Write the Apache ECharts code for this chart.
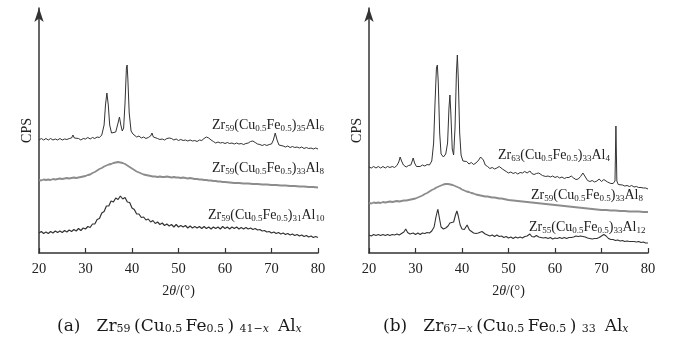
<!DOCTYPE html>
<html>
<head>
<meta charset="utf-8">
<script src="https://cdn.jsdelivr.net/npm/echarts@6/dist/echarts.min.js"></script>
<style>
  html, body { margin: 0; padding: 0; background: #fff; }
  #chart { width: 687px; height: 347px; }
</style>
</head>
<body>
<div id="chart"></div>
<script>
// XRD patterns, 2θ (deg) vs. offset intensity (CPS, arbitrary units)
const xTicks = [20, 30, 40, 50, 60, 70, 80];

// (a) Zr59(Cu0.5Fe0.5)41-x Alx
const a_Al6 = [
  [20,113],[20.5,114.5],[21,113],[21.5,114.5],[22,113],[22.5,114.5],[23,113],[23.5,114],[24,113],[24.5,114.5],
  [25,113],[25.5,114],[26,113.5],[26.5,114.5],[27,115],[27.3,118],[27.6,115],[28,113],[28.5,114.5],[29,113],
  [29.5,114.5],[30,114],[30.5,115.5],[31,114],[31.5,115.5],[32,114.5],[32.5,116],[33,115.5],[33.5,118],[34,128],
  [34.3,148],[34.6,160],[34.9,148],[35.2,128],[35.6,120],[36,119],[36.5,121],[37,130],[37.3,136],[37.6,128],
  [37.9,122],[38.2,125],[38.5,150],[38.8,185],[38.95,188],[39.1,175],[39.4,140],[39.8,122],[40.2,119],[40.6,117],
  [41,116],[41.5,117],[42,115],[42.5,116],[43,114.5],[43.5,115.5],[44,117],[44.3,120],[44.6,116],[45,114],
  [45.5,114.5],[46,113.5],[46.5,114],[47,113],[47.5,114.5],[48,115],[48.5,114.5],[49,113],[49.5,114],[50,112.5],
  [50.5,113.5],[51,112.5],[51.5,113],[52,112],[52.5,113],[53,112],[53.5,112.5],[54,111.5],[54.5,113],[55,112.5],
  [55.5,114.5],[56,116],[56.5,115],[57,113],[57.5,111.5],[58,110],[58.5,111],[59,110],[59.5,110.5],[60,109.5],
  [60.5,110.5],[61,109.5],[61.5,110],[62,109],[62.5,110],[63,109],[63.5,109.5],[64,108.5],[64.5,109.5],[65,110],
  [65.5,111.5],[66,112],[66.5,110.5],[67,109],[67.5,108.5],[68,107.5],[68.5,108.5],[69,107.5],[69.5,108.5],[70,109],
  [70.4,113],[70.8,120],[71.2,113],[71.6,108],[72,106.5],[72.5,107],[73,106],[73.5,107],[74,105.5],[74.5,106.5],
  [75,105.5],[75.5,106],[76,105],[76.5,106],[77,104.5],[77.5,105.5],[78,104.5],[78.5,105],[79,104],[79.5,105],[80,104]
];
const a_Al8 = [
  [20,73],[20.5,72.5],[21,73.5],[21.5,73],[22,73.5],[22.5,73],[23,74],[23.5,73.5],[24,74],[24.5,74.5],
  [25,74],[25.5,74.5],[26,75],[26.5,74.5],[27,75],[27.5,75.5],[28,75],[28.5,75.5],[29,76],[29.5,76.5],
  [30,77],[30.5,78],[31,78.5],[31.5,80],[32,81],[32.5,82.5],[33,84],[33.5,85],[34,86.5],[34.5,87.5],
  [35,88.5],[35.5,89],[36,90],[36.5,90.5],[37,91],[37.5,90.5],[38,90],[38.5,89],[39,87.5],[39.5,86],
  [40,84.5],[40.5,83],[41,81.5],[41.5,80.5],[42,79.5],[42.5,78.5],[43,78],[43.5,77.5],[44,77],[44.5,76.5],
  [45,76.5],[45.5,76],[46,76.5],[46.5,76],[47,76],[47.5,76.5],[48,76],[48.5,75.5],[49,76],[49.5,75.5],
  [50,75.5],[50.5,75],[51,75.5],[51.5,75],[52,74.5],[52.5,75],[53,74.5],[53.5,74],[54,74],[54.5,73.5],
  [55,73.5],[55.5,73],[56,73],[56.5,72.5],[57,72.5],[57.5,72],[58,72],[58.5,71.5],[59,71.5],[59.5,71],
  [60,71],[61,70.5],[62,70],[63,70],[64,69.5],[65,69.5],[66,69],[67,69],[68,68.5],[69,68.5],
  [70,68],[71,68],[72,67.5],[73,67.5],[74,67],[75,67],[76,66.5],[77,66.5],[78,66],[79,66],[80,65.5]
];
const a_Al10 = [
  [20,20],[20.5,21.5],[21,19.5],[21.5,21],[22,19.5],[22.5,21.5],[23,20],[23.5,22],[24,20.5],[24.5,22],
  [25,20.5],[25.5,22.5],[26,21],[26.5,23],[27,21.5],[27.5,23.5],[28,22],[28.5,24.5],[29,22.5],[29.5,25],
  [30,24],[30.5,26.5],[31,25.5],[31.5,29],[32,29],[32.5,33.5],[33,34.5],[33.5,40],[34,41.5],[34.5,47],
  [35,47],[35.5,52],[36,51],[36.5,55],[37,53.5],[37.5,57],[38,54],[38.5,55.5],[39,51],[39.5,50.5],
  [40,45],[40.5,43.5],[41,39],[41.5,39],[42,35.5],[42.5,36],[43,33],[43.5,34],[44,31],[44.5,32.5],
  [45,29.5],[45.5,31],[46,28.5],[46.5,30],[47,27.5],[47.5,29],[48,27],[48.5,28.5],[49,26],[49.5,28.5],
  [50,26],[50.5,27.5],[51,26],[51.5,27.5],[52,25],[52.5,27],[53,25],[53.5,26.5],[54,25],[54.5,26.5],
  [55,24.5],[55.5,26.5],[56,24.5],[56.5,26],[57,24],[57.5,26],[58,24.5],[58.5,26],[59,24],[59.5,26.5],
  [60,24.5],[60.5,26],[61,24],[61.5,26],[62,24.5],[62.5,26],[63,24],[63.5,25.5],[64,24],[64.5,25.5],
  [65,24],[65.5,25],[66,23.5],[66.5,24.5],[67,23],[67.5,23.5],[68,22],[68.5,22.5],[69,21],[69.5,21.5],
  [70,20],[70.5,21],[71,19.5],[71.5,20.5],[72,19],[72.5,20],[73,18.5],[73.5,19.5],[74,18],[74.5,19],
  [75,17.5],[75.5,18.5],[76,17],[76.5,18],[77,16.5],[77.5,17.5],[78,16],[78.5,17],[79,15.5],[79.5,16.5],[80,15.5]
];

// (b) Zr67-x(Cu0.5Fe0.5)33 Alx
const b_Al4 = [
  [20,86],[20.5,85],[21,86.5],[21.5,85],[22,86.5],[22.5,85],[23,86.5],[23.5,85],[24,86.5],[24.5,85.5],
  [25,86.5],[25.5,85.5],[26,87.5],[26.4,91],[26.7,96],[27,92],[27.4,88],[28,86],[28.5,87.5],[29,88],
  [29.3,92],[29.5,95],[29.8,90],[30.2,86.5],[30.5,88],[31,86.5],[31.5,88],[32,87],[32.5,88.5],[33,88],
  [33.5,92],[33.9,110],[34.2,150],[34.5,185],[34.7,188],[34.9,170],[35.2,120],[35.5,99],[36,96],[36.5,99],
  [36.9,110],[37.2,145],[37.4,158],[37.6,140],[37.9,104],[38.2,98],[38.5,125],[38.8,180],[39,198],[39.2,175],
  [39.5,120],[39.8,98],[40.2,92],[40.6,90],[41,91.5],[41.5,89],[42,90.5],[42.5,88.5],[43,90],[43.6,93],
  [44,96],[44.3,98],[44.6,93],[45,88],[45.5,86.5],[46,84.5],[46.5,85.5],[47,84],[47.5,85],[48,86.5],
  [48.3,87],[48.7,84],[49,82.5],[49.5,81.5],[50,80],[50.5,81],[51,79.5],[51.5,80.5],[52,79],[52.5,80.5],
  [53,80],[53.5,81.5],[54,80],[54.6,82],[55,79.5],[55.5,78.5],[56,79.5],[56.5,80],[56.9,81],[57.3,77.5],
  [58,76.5],[58.5,77],[59,76],[59.5,77],[60,75.5],[60.5,76.5],[61,75],[61.5,76],[62,74.5],[62.5,75.5],
  [63,75.5],[63.5,77],[64,75],[64.5,73.5],[65,74],[65.5,76.5],[66,80],[66.4,77],[67,72.5],[67.5,71.5],
  [68,72.5],[68.5,71],[69,72],[69.5,74],[70,71.5],[70.5,73.5],[70.9,75.5],[71.3,71],[72,69.5],[72.5,69.5],
  [72.9,72],[73.1,127],[73.3,72],[73.6,68.5],[74,68],[74.5,68],[75,67],[75.5,67.5],[76,66.5],[76.5,67.5],
  [77,66],[77.5,66.5],[78,65.5],[78.5,65.5],[79,65],[79.5,65],[80,64]
];
const b_Al8 = [
  [20,50],[20.5,49.5],[21,50.5],[21.5,50],[22,50.5],[22.5,50],[23,51],[23.5,50.5],[24,51],[24.5,51.5],
  [25,51],[25.5,51.5],[26,52],[26.5,51.5],[27,52],[27.5,52.5],[28,52.5],[28.5,53],[29,53.5],[29.5,54],
  [30,54.5],[30.5,55.5],[31,56.5],[31.5,57.5],[32,59],[32.5,60],[33,61.5],[33.5,63],[34,64],[34.5,65.5],
  [35,66.5],[35.5,67.5],[36,68.5],[36.5,69],[37,69],[37.5,68.5],[38,68],[38.5,67],[39,66],[39.5,65],
  [40,63.5],[40.5,62.5],[41,61.5],[41.5,61],[42,60],[42.5,59.5],[43,58.5],[43.5,58],[44,57.5],[44.5,57],
  [45,56.5],[45.5,56.5],[46,56],[46.5,55.5],[47,55.5],[47.5,55],[48,54.5],[48.5,54.5],[49,54],[49.5,53.5],
  [50,53],[51,52.5],[52,52],[53,51.5],[54,51],[55,50.5],[56,50],[57,49.5],[58,49],[59,48.5],
  [60,48],[61,47.5],[62,47],[63,46.5],[64,46],[65,45.5],[66,45],[67,44.5],[68,44],[69,43.5],
  [70,43],[71,43],[72,42.5],[73,42.5],[74,42],[75,42],[76,41.5],[77,41.5],[78,41.5],[79,41],[80,41]
];
const b_Al12 = [
  [20,18],[20.5,17],[21,18.5],[21.5,17.5],[22,18.5],[22.5,17.5],[23,18.5],[23.5,17.5],[24,18.5],[24.5,17.5],
  [25,18.5],[25.5,18],[26,19],[26.5,18],[27,19.5],[27.5,21],[27.9,24],[28.3,20.5],[28.8,19],[29.5,20],
  [30,18.5],[30.5,20],[31,18.5],[31.5,20],[32,19.5],[32.5,20.5],[33,20],[33.5,22],[34,26],[34.4,36],
  [34.8,44],[35.1,36],[35.5,26],[36,24],[36.5,25],[37,27],[37.4,30],[37.8,28],[38.2,31],[38.6,38],
  [38.9,42],[39.2,37],[39.6,28],[40,24],[40.5,23.5],[41.1,28],[41.6,23],[42,21],[42.5,20],[43,19.5],
  [43.5,20],[44.3,21.5],[45,19],[45.5,18],[46,17],[46.5,18],[47,16.5],[47.5,18],[48,16.5],[48.5,17],
  [49,15.5],[49.5,16.5],[50,15],[50.5,16],[51,14.5],[51.5,16],[52,15],[52.5,16],[53,15],[53.5,16.5],
  [54,17],[54.6,19],[55,16.5],[55.5,16],[56,17.5],[56.5,16],[57,15.5],[57.5,15],[58,15.5],[58.5,14.5],
  [59,15.5],[59.5,14],[60,15],[60.5,14.5],[61,15.5],[61.5,14.5],[62,15.5],[62.5,14.5],[63,15.5],[63.5,15.5],
  [64,16],[64.5,17],[65,16.5],[65.5,17],[66,16.5],[66.5,16],[67,15],[67.5,14.5],[68,14],[68.5,14.5],
  [69,14.5],[69.5,15.5],[70,17],[70.5,18.5],[71,17],[71.5,14.5],[72,13.5],[72.5,13.5],[73,12.5],[73.5,13],
  [74,12],[74.5,12.5],[75,11.5],[75.5,12],[76,11.5],[77,11.5],[77.5,11],[78,11.5],[78.5,10.5],[79,11],[79.5,10],[80,10]
];

// composition labels: [main, sub, main, sub, ...]
const labelsA = [
  ['Zr','59','(Cu','0.5','Fe','0.5',')','35','Al','6'],
  ['Zr','59','(Cu','0.5','Fe','0.5',')','33','Al','8'],
  ['Zr','59','(Cu','0.5','Fe','0.5',')','31','Al','10']
];
const labelsB = [
  ['Zr','63','(Cu','0.5','Fe','0.5',')','33','Al','4'],
  ['Zr','59','(Cu','0.5','Fe','0.5',')','33','Al','8'],
  ['Zr','55','(Cu','0.5','Fe','0.5',')','33','Al','12']
];

const SERIF = '"Liberation Serif", "Times New Roman", serif';
const WIDE_SERIF = '"DejaVu Serif", serif';
const DARK = '#333333';
const GREY = '#8c8c8c';

function formula(parts) {
  return parts.map((p, i) => i % 2 === 0 ? '{m|' + p + '}' : '{s|' + p + '}').join('');
}
const labelRich = {
  m: { fontFamily: SERIF, fontSize: 14, fill: '#222' },
  s: { fontFamily: SERIF, fontSize: 9, fill: '#222', padding: [8, 0, 0, 0] }
};

function xAxisFor(gi) {
  return {
    gridIndex: gi, type: 'value', min: 20, max: 80, interval: 10,
    name: '{n|2}{t|θ}{n|/(°)}', nameLocation: 'middle', nameGap: 31,
    nameTextStyle: { rich: {
      n: { fontFamily: SERIF, fontSize: 14, color: '#222' },
      t: { fontFamily: SERIF, fontSize: 14, color: '#222', fontStyle: 'italic' }
    } },
    axisLine: { show: true, lineStyle: { color: DARK, width: 1.5 } },
    axisTick: { show: true, inside: true, length: 5, lineStyle: { color: DARK, width: 1.2 } },
    axisLabel: { fontFamily: SERIF, fontSize: 14.5, color: '#222', margin: 9,
      formatter: v => xTicks.includes(v) ? String(v) : '' },
    splitLine: { show: false }
  };
}
function yAxisFor(gi) {
  return {
    gridIndex: gi, type: 'value', min: 0, max: 245,
    name: 'CPS', nameLocation: 'middle', nameGap: 5, nameRotate: 90,
    nameTextStyle: { fontFamily: SERIF, fontSize: 14, color: '#222' },
    axisLine: { show: true, symbol: ['none', 'arrow'], symbolSize: [7, 14],
      lineStyle: { color: DARK, width: 1.5 } },
    axisTick: { show: false }, axisLabel: { show: false }, splitLine: { show: false }
  };
}
function line(gi, data, color, width) {
  return {
    type: 'line', xAxisIndex: gi, yAxisIndex: gi, data: data,
    showSymbol: false, symbol: 'none', smooth: false,
    lineStyle: { color: color, width: width }, silent: true
  };
}
function textAt(x, y, parts) {
  return { type: 'text', left: x, top: y, style: { text: formula(parts), rich: labelRich } };
}

const captionRich = {
  m: { fontFamily: WIDE_SERIF, fontSize: 17, fill: '#1a1a1a' },
  s: { fontFamily: WIDE_SERIF, fontSize: 11, fill: '#1a1a1a', padding: [5, 0, 0, 0] },
  i: { fontFamily: WIDE_SERIF, fontSize: 11, fill: '#1a1a1a', fontStyle: 'italic', padding: [5, 0, 0, 0] }
};
const captionA = '{m|(a)   Zr}{s|59 }{m|(Cu}{s|0.5 }{m|Fe}{s|0.5 }{m|) }{s|41−}{i|x }{m| Al}{i|x}';
const captionB = '{m|(b)   Zr}{s|67−}{i|x }{m|(Cu}{s|0.5 }{m|Fe}{s|0.5 }{m|) }{s|33 }{m| Al}{i|x}';

const chart = echarts.init(document.getElementById('chart'), null, { renderer: 'canvas' });
chart.setOption({
  animation: false,
  backgroundColor: '#fff',
  grid: [
    { left: 39, right: 369, top: 8, bottom: 94 },
    { left: 369, right: 39, top: 8, bottom: 94 }
  ],
  xAxis: [xAxisFor(0), xAxisFor(1)],
  yAxis: [yAxisFor(0), yAxisFor(1)],
  series: [
    line(0, a_Al6, DARK, 1),
    line(0, a_Al8, GREY, 1.8),
    line(0, a_Al10, DARK, 1.2),
    line(1, b_Al4, DARK, 1),
    line(1, b_Al8, GREY, 1.8),
    line(1, b_Al12, DARK, 1.1)
  ],
  graphic: [
    textAt(212, 118, labelsA[0]),
    textAt(212, 161, labelsA[1]),
    textAt(208, 208, labelsA[2]),
    textAt(498, 148, labelsB[0]),
    textAt(531, 188, labelsB[1]),
    textAt(529, 220, labelsB[2]),
    { type: 'text', left: 57, top: 318, style: { text: captionA, rich: captionRich } },
    { type: 'text', left: 383, top: 318, style: { text: captionB, rich: captionRich } }
  ]
});
</script>
</body>
</html>
